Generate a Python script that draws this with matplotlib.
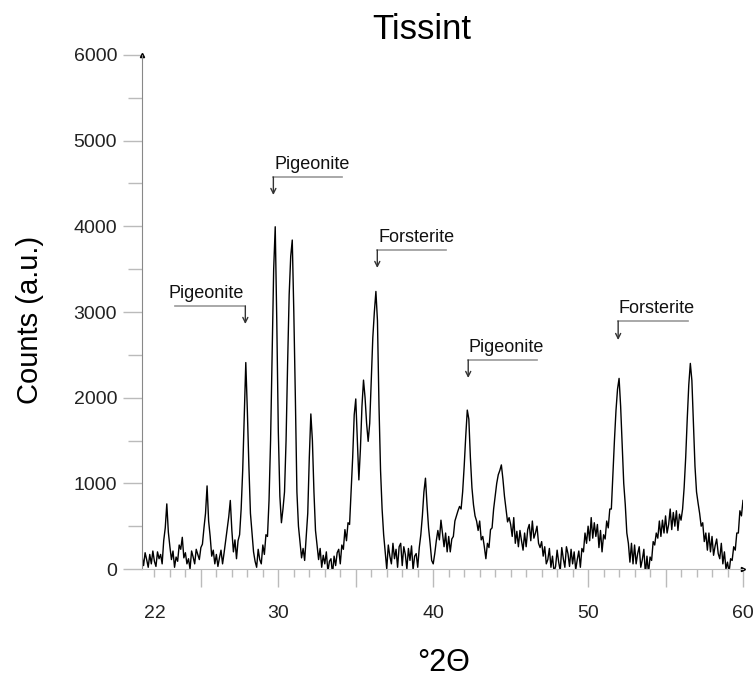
import numpy as np
import matplotlib.pyplot as plt
from matplotlib.ticker import FixedLocator, MultipleLocator

# Diffraction scan, 0.1 degree steps from 21.2 to 60.0 (2-theta)
two_theta = np.arange(212, 601) / 10.0

counts = [
    150, 40, 190, 110, 20, 170, 60, 210,                        # 21.2 - 21.9
    90, 30, 200, 120, 170, 60, 330, 480, 760, 430,              # 22
    260, 110, 210, 20, 140, 90, 280, 230, 370, 130,             # 23
    190, 60, 120, 0, 210, 140, 60, 230, 170, 110,               # 24
    250, 290, 480, 650, 970, 560, 380, 150, 220, 60,            # 25
    170, 30, 130, 220, 60, 190, 330, 480, 610, 800,             # 26
    450, 200, 340, 120, 330, 400, 700, 1150, 1800, 2410,        # 27
    1850, 1200, 650, 420, 200, 90, 20, 230, 110, 60,            # 28
    280, 170, 400, 380, 800, 1500, 2500, 3500, 3995, 2900,      # 29
    1600, 850, 540, 700, 900, 1500, 2400, 3200, 3650, 3840,     # 30
    3000, 2000, 900, 500, 320, 130, 240, 100, 380, 650,         # 31
    1300, 1810, 1500, 900, 450, 280, 110, 240, 20, 160,         # 32
    60, 200, -30, 90, 120, -60, 150, 40, 190, 230,              # 33
    60, 280, 230, 460, 330, 540, 520, 900, 1300, 1800,          # 34
    1985, 1500, 1040, 1400, 1900, 2205, 2000, 1700, 1490, 1700, # 35
    2200, 2700, 3000, 3240, 2900, 1900, 1150, 700, 400, 200,    # 36
    0, 280, 150, 60, 300, 120, 230, 20, 260, 300,               # 37
    40, 260, 170, 0, 240, 100, 270, -10, 150, 180,              # 38
    20, 250, 400, 620, 900, 1060, 750, 480, 300, 100,           # 39
    60, 180, 330, 450, 340, 570, 420, 260, 420, 200,            # 40
    380, 200, 350, 380, 560, 620, 680, 730, 700, 900,           # 41
    1200, 1550, 1855, 1750, 1300, 950, 750, 620, 560, 450,      # 42
    560, 340, 380, 260, 120, 300, 250, 460, 480, 700,           # 43
    850, 1000, 1100, 1150, 1215, 1050, 850, 700, 550, 600,      # 44
    520, 380, 600, 300, 440, 260, 450, 330, 220, 420,           # 45
    260, 460, 520, 330, 560, 360, 420, 500, 300, 250,           # 46
    320, 150, 260, 60, 110, 240, 20, 150, -30, 30,              # 47
    220, 80, -20, 250, 120, 20, 260, 180, 30, 230,              # 48
    60, 200, -10, 110, 210, 20, 240, 200, 420, 300,             # 49
    500, 330, 600, 360, 540, 380, 520, 250, 450, 200,           # 50
    400, 350, 560, 480, 700, 700, 1100, 1500, 1850, 2100,       # 51
    2225, 1900, 1450, 1000, 750, 420, 300, 80, 300, 60,         # 52
    280, 60, 180, 260, 20, 110, 230, -60, 150, -50,             # 53
    140, 100, 320, 280, 420, 360, 560, 380, 570, 420,           # 54
    620, 420, 520, 700, 460, 660, 500, 680, 450, 640,           # 55
    570, 700, 950, 1300, 1750, 2150, 2400, 2200, 1700, 1200,    # 56
    900, 770, 650, 500, 540, 320, 420, 220, 420, 200,           # 57
    380, 160, 270, 350, 180, 120, 300, 60, 200, 0,              # 58
    80, -40, 120, 100, 260, 220, 420, 420, 680, 620,            # 59
    800,                                                        # 60
]

# Phase markers: name, arrow position, bracket end, bracket height, arrow tip
phase_names = ["Pigeonite", "Pigeonite", "Forsterite", "Pigeonite", "Forsterite"]
arrow_x = [27.87, 29.68, 36.39, 42.26, 51.94]
bracket_end = [23.35, 34.13, 40.84, 46.71, 56.45]
bracket_y = [3070, 4576, 3724, 2440, 2895]
arrow_tip = [2860, 4366, 3514, 2230, 2673]

x_tick_pos = [22, 25, 30, 35, 40, 50, 55, 60]
x_tick_text = {22: "22", 30: "30", 40: "40", 50: "50", 60: "60"}

plt.rcParams['font.family'] = ['Liberation Sans', 'DejaVu Sans']

fig = plt.figure(figsize=(7.55, 6.79), dpi=100)
ax = fig.add_axes([0.1881, 0.162, 0.796, 0.757])

ax.plot(two_theta, counts, color='black', lw=1.0)

ax.set_xlim(21.2, 60)
ax.set_ylim(0, 6000)

for side in ['top', 'right']:
    ax.spines[side].set_visible(False)
ax.spines['left'].set_color('#888888')
ax.spines['bottom'].set_color('#bbbbbb')

ax.xaxis.set_major_locator(FixedLocator(x_tick_pos))
ax.set_xticklabels([x_tick_text.get(p, "") for p in x_tick_pos])
ax.xaxis.set_minor_locator(MultipleLocator(1))
ax.yaxis.set_major_locator(MultipleLocator(1000))
ax.yaxis.set_minor_locator(MultipleLocator(500))

ax.tick_params(axis='x', which='major', direction='out', length=13, width=1,
               color='#bbbbbb', labelsize=14, labelcolor='#222222', pad=13)
ax.tick_params(axis='x', which='minor', direction='out', length=6, width=1,
               color='#bbbbbb')
ax.tick_params(axis='y', which='major', direction='out', length=14, width=1,
               color='#bbbbbb', labelsize=14, labelcolor='#222222', pad=4)
ax.tick_params(axis='y', which='minor', direction='out', length=10, width=1,
               color='#bbbbbb')

# the 22 label sits on a short tick
ax.xaxis.get_major_ticks()[0].tick1line.set_markersize(6)

# little arrow heads at the axis ends
ax.plot([21.2], [6000], marker='^', ms=3, color='black', clip_on=False)
ax.plot([60], [0], marker='>', ms=3, color='black', clip_on=False)

for name, ax_x, end_x, by, tip in zip(phase_names, arrow_x, bracket_end, bracket_y, arrow_tip):
    ax.plot([ax_x, end_x], [by, by], color='#999999', lw=1.2, clip_on=False)
    ax.annotate('', xy=(ax_x, tip), xytext=(ax_x, by),
                arrowprops=dict(arrowstyle='->', color='#333333', lw=1.0,
                                mutation_scale=9, shrinkA=0, shrinkB=0))
    ax.text(min(ax_x, end_x) - (0.45 if end_x < ax_x else -0.05), by + 45, name,
            fontsize=13, ha='left', va='bottom', color='#111111')

fig.text(0.559, 0.956, "Tissint", fontsize=25, ha='center', va='center')
fig.text(0.040, 0.529, "Counts (a.u.)", fontsize=21, rotation=90,
         ha='center', va='center')
fig.text(0.587, 0.024, "°2Θ", fontsize=22, ha='center', va='center')

fig.savefig("out.png", dpi=100)
